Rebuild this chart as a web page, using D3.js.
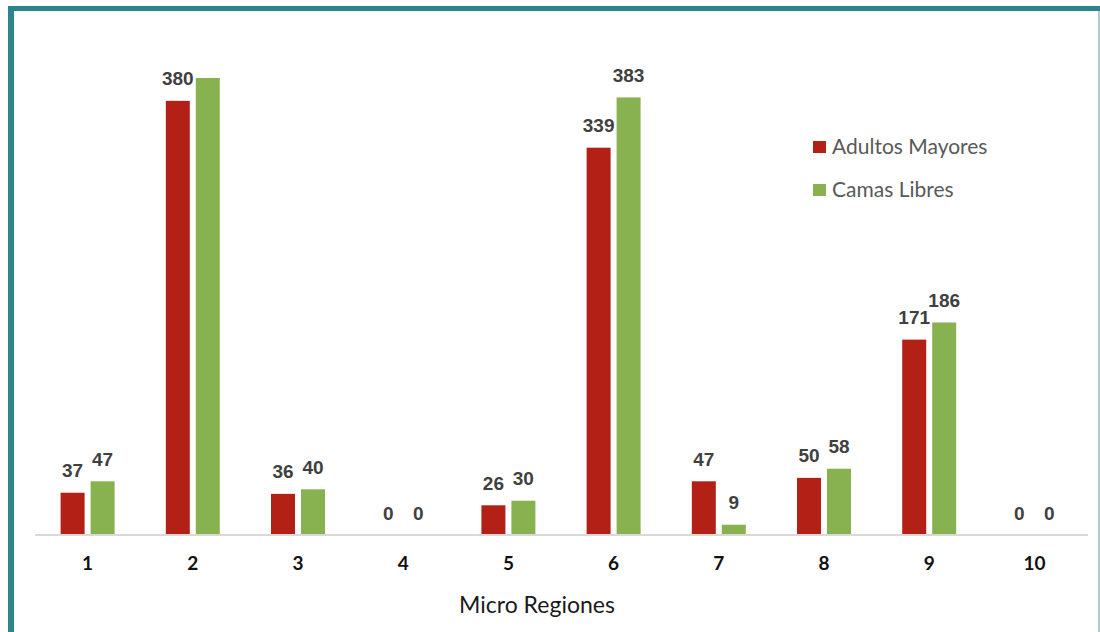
<!DOCTYPE html>
<html><head><meta charset="utf-8">
<script src="https://cdn.jsdelivr.net/npm/d3@7"></script>
<style>html,body{margin:0;padding:0;background:#fff;}svg{display:block;}</style>
</head><body>
<svg id="c" width="1100" height="632"></svg>
<script>
const categories = ["1","2","3","4","5","6","7","8","9","10"];
const seriesNames = ["Adultos Mayores","Camas Libres"];
const adultosMayores = [37,380,36,0,26,339,47,50,171,0];
const camasLibres = [47,400,40,0,30,383,9,58,186,0];
const showAdultosLabel = [true,true,true,true,true,true,true,true,true,true];
const showCamasLabel = [true,false,true,true,true,true,true,true,true,true];
const colors = ["#B22016","#88B14F"];

const svg = d3.select("#c");
svg.append("rect").attr("width",1100).attr("height",632).attr("fill","#fff");

// frame
svg.append("rect").attr("x",8).attr("y",6).attr("width",1092).attr("height",5).attr("fill","#2B8589");
svg.append("rect").attr("x",8).attr("y",6).attr("width",6).attr("height",626).attr("fill","#2B8589");
svg.append("rect").attr("x",1098).attr("y",11).attr("width",2).attr("height",621).attr("fill","#A9CFD0");

const x0 = d3.scaleBand().domain(categories).range([35,1087]).paddingInner(0.487).paddingOuter(0.2435);
const x1 = d3.scaleBand().domain(seriesNames).range([0,x0.bandwidth()]).paddingInner(0.2);
const y = d3.scaleLinear().domain([0,400]).range([535,78]);

const data = categories.map((c,i)=>({c, vals:[
  {s:seriesNames[0], v:adultosMayores[i], show:showAdultosLabel[i], k:0},
  {s:seriesNames[1], v:camasLibres[i], show:showCamasLabel[i], k:1}]}));

const g = svg.append("g").selectAll("g").data(data).join("g")
  .attr("transform", d=>`translate(${x0(d.c)},0)`);
g.selectAll("rect").data(d=>d.vals).join("rect")
  .attr("x", d=>x1(d.s)).attr("width", x1.bandwidth())
  .attr("y", d=>y(d.v)).attr("height", d=>y(0)-y(d.v))
  .attr("fill", d=>colors[d.k]);
g.selectAll("text").data(d=>d.vals.filter(v=>v.show)).join("text")
  .attr("x", d=>x1(d.s)+x1.bandwidth()/2)
  .attr("y", d=>y(d.v)-15.5)
  .attr("text-anchor","middle")
  .attr("font-family","'Liberation Sans', Arial, sans-serif")
  .attr("font-weight","bold").attr("font-size",19).attr("fill","#404040")
  .text(d=>d.v);

// axis
const ax = svg.append("g").attr("transform",`translate(0,${y(0)})`)
  .call(d3.axisBottom(x0).tickSize(0).tickPadding(22));
ax.select(".domain").attr("stroke","#D9D9D9").attr("stroke-width",2).attr("d","M35,0H1088");
ax.selectAll("text").attr("font-family","Lato, 'Open Sans', sans-serif").attr("font-weight","bold")
  .attr("font-size",19).attr("fill","#111");

svg.append("text").attr("x",537).attr("y",613).attr("text-anchor","middle")
  .attr("font-family","Lato, 'Open Sans', sans-serif").attr("font-size",23).attr("fill","#1a1a1a")
  .text("Micro Regiones");

// legend
const lg = svg.append("g").selectAll("g").data(seriesNames).join("g")
  .attr("transform",(d,i)=>`translate(813,${141+i*43})`);
lg.append("rect").attr("width",13).attr("height",12).attr("fill",(d,i)=>colors[i]);
lg.append("text").attr("x",19).attr("y",12.5).attr("font-family","Lato, 'Open Sans', sans-serif")
  .attr("font-size",21).attr("fill","#595959").text(d=>d);
</script>
</body></html>
